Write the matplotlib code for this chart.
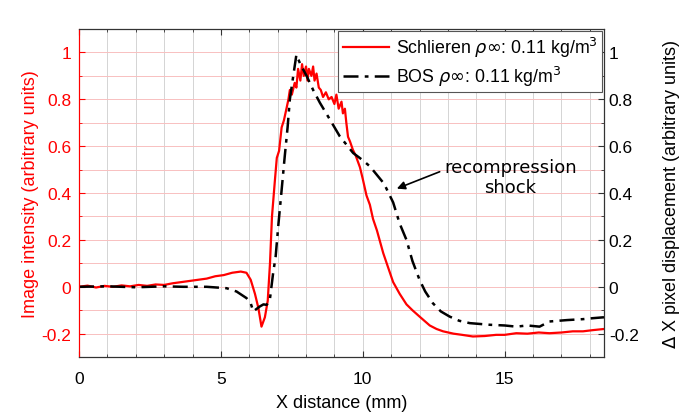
import numpy as np
import matplotlib
matplotlib.use('Agg')
import matplotlib.pyplot as plt
from matplotlib.ticker import MultipleLocator, FuncFormatter

plt.rcParams['font.family'] = ['Liberation Sans', 'DejaVu Sans']
plt.rcParams['mathtext.fontset'] = 'dejavusans'

# Schlieren image intensity (left axis)
schl_x = [0, 0.3, 0.6, 0.9, 1.2, 1.5, 1.8, 2.1, 2.4, 2.7, 3.0, 3.3, 3.6, 3.9, 4.2, 4.5,
          4.8, 5.1, 5.4, 5.7, 5.9, 6.05, 6.2, 6.32, 6.43, 6.55, 6.65, 6.73, 6.8, 6.9,
          6.97, 7.05, 7.14, 7.22, 7.31, 7.38, 7.43, 7.5, 7.6, 7.66, 7.72, 7.8, 7.86,
          7.92, 8.0, 8.05, 8.1, 8.19, 8.25, 8.3, 8.37, 8.45, 8.52, 8.6, 8.7, 8.8, 8.9,
          9.0, 9.07, 9.15, 9.25, 9.3, 9.37, 9.42, 9.48, 9.55, 9.65, 9.75, 9.9, 10.0,
          10.13, 10.25, 10.36, 10.5, 10.72, 10.9, 11.07, 11.3, 11.54, 11.75, 12.0,
          12.36, 12.6, 12.83, 13.2, 13.5, 13.88, 14.3, 14.7, 15.0, 15.41, 15.8, 16.2,
          16.58, 17.0, 17.4, 17.76, 18.1, 18.5]
schl_y = [0, 0.005, -0.003, 0.004, 0.0, 0.006, 0.002, 0.008, 0.004, 0.01, 0.008, 0.015,
          0.02, 0.025, 0.03, 0.035, 0.045, 0.05, 0.06, 0.065, 0.06, 0.03, -0.03, -0.09,
          -0.17, -0.13, -0.06, 0.1, 0.3, 0.45, 0.55, 0.58, 0.68, 0.71, 0.76, 0.80, 0.84,
          0.82, 0.87, 0.85, 0.93, 0.88, 0.95, 0.90, 0.94, 0.88, 0.93, 0.90, 0.94, 0.88,
          0.91, 0.85, 0.84, 0.81, 0.83, 0.80, 0.81, 0.78, 0.82, 0.76, 0.79, 0.74, 0.76,
          0.70, 0.64, 0.62, 0.585, 0.56, 0.51, 0.46, 0.39, 0.35, 0.29, 0.24, 0.144, 0.08,
          0.02, -0.03, -0.075, -0.10, -0.127, -0.165, -0.18, -0.19, -0.20, -0.205, -0.212,
          -0.21, -0.205, -0.205, -0.198, -0.2, -0.195, -0.198, -0.195, -0.19, -0.19,
          -0.185, -0.18]

# BOS pixel displacement (right axis)
bos_x = [0, 1, 2, 3, 3.67, 4.5, 5.2, 5.55, 5.9, 6.05, 6.14, 6.25, 6.37, 6.5, 6.61, 6.72,
         6.84, 6.93, 7.02, 7.13, 7.25, 7.35, 7.43, 7.55, 7.66, 7.8, 8.02, 8.25, 8.49,
         8.84, 9.19, 9.66, 10.0, 10.25, 10.48, 10.75, 11.07, 11.3, 11.54, 11.75, 12.0,
         12.2, 12.47, 12.75, 13.06, 13.4, 13.77, 14.47, 15.0, 15.41, 15.8, 16.23, 16.58,
         17.2, 17.76, 18.1, 18.5]
bos_y = [0, 0.002, -0.002, 0.002, 0.0, 0.0, -0.006, -0.02, -0.048, -0.07, -0.105, -0.095,
         -0.084, -0.075, -0.077, -0.06, 0.058, 0.13, 0.258, 0.4, 0.557, 0.68, 0.80, 0.9,
         0.99, 0.95, 0.90, 0.84, 0.785, 0.714, 0.642, 0.571, 0.54, 0.514, 0.48, 0.44,
         0.36, 0.27, 0.2, 0.11, 0.03, -0.02, -0.07, -0.105, -0.127, -0.145, -0.155,
         -0.162, -0.165, -0.17, -0.165, -0.17, -0.148, -0.142, -0.138, -0.134, -0.13]

fig = plt.figure(figsize=(6.83, 4.14), dpi=100)
ax = fig.add_axes([0.1157, 0.135, 0.7686, 0.7925])
ax2 = ax.twinx()

red = '#ff0000'
l1, = ax.plot(schl_x, schl_y, color=red, lw=1.6,
              label=r'Schlieren $\rho\infty$: 0.11 kg/m$^3$')
l2, = ax2.plot(bos_x, bos_y, color='black', lw=1.8, ls=(0, (6, 2.5, 1.5, 2.5)),
               label=r'BOS $\rho\infty$: 0.11 kg/m$^3$')

ax.set_xlim(0, 18.5)
ax.set_ylim(-0.3, 1.1)
ax2.set_ylim(-0.3, 1.1)

fmt = FuncFormatter(lambda v, p: '%g' % round(v, 3))
ax.xaxis.set_major_locator(MultipleLocator(5))
ax.xaxis.set_minor_locator(MultipleLocator(1))
ax.yaxis.set_major_locator(MultipleLocator(0.2))
ax.yaxis.set_minor_locator(MultipleLocator(0.1))
ax.yaxis.set_major_formatter(fmt)
ax2.yaxis.set_major_locator(MultipleLocator(0.2))
ax2.yaxis.set_minor_locator(MultipleLocator(0.1))
ax2.yaxis.set_major_formatter(fmt)

ax.grid(axis='x', which='both', color='#d4d4d4', lw=0.7)
ax.grid(axis='y', which='both', color='#f8c0c0', lw=0.7)
ax.set_axisbelow(True)

ax.tick_params(axis='x', which='both', direction='in', top=True, labelsize=12.5,
               color='#333333', pad=10)
ax.tick_params(axis='x', which='major', length=4)
ax.tick_params(axis='x', which='minor', length=2.5)
ax.tick_params(axis='y', which='both', direction='in', colors=red, labelsize=12.5, pad=5.5)
ax.tick_params(axis='y', which='major', length=4)
ax.tick_params(axis='y', which='minor', length=2.5)
ax2.tick_params(axis='y', which='both', direction='in', labelsize=12.5, color='#333333')
ax2.tick_params(axis='y', which='major', length=4)
ax2.tick_params(axis='y', which='minor', length=2.5)

for s in ['top', 'bottom', 'right']:
    ax2.spines[s].set_color('#333333')
ax2.spines['left'].set_color(red)
ax.spines['left'].set_color(red)

ax.set_xlabel('X distance (mm)', fontsize=13, labelpad=6)
ax.set_ylabel('Image intensity (arbitrary units)', fontsize=13, color=red, labelpad=2)
ax2.set_ylabel(r'$\Delta$ X pixel displacement (arbitrary units)', fontsize=13,
               labelpad=16)

# recompression shock note
ax.text(15.2, 0.47, 'recompression\nshock', ha='center', va='center', fontsize=13,
        family='DejaVu Sans', linespacing=1.15)
ax.annotate('', xy=(11.2, 0.419), xytext=(12.71, 0.491),
            arrowprops=dict(arrowstyle='-|>', color='black', lw=1.2,
                            shrinkA=0, shrinkB=0, mutation_scale=12))

leg = ax2.legend(handles=[l1, l2], loc='upper right', fontsize=12.8,
                 borderaxespad=0.1, handlelength=2.6, handletextpad=0.4,
                 labelspacing=0.25, borderpad=0.25, fancybox=False, framealpha=1)
leg.get_frame().set_edgecolor('#555555')
leg.get_frame().set_linewidth(0.8)

fig.savefig('out.png', dpi=100)
